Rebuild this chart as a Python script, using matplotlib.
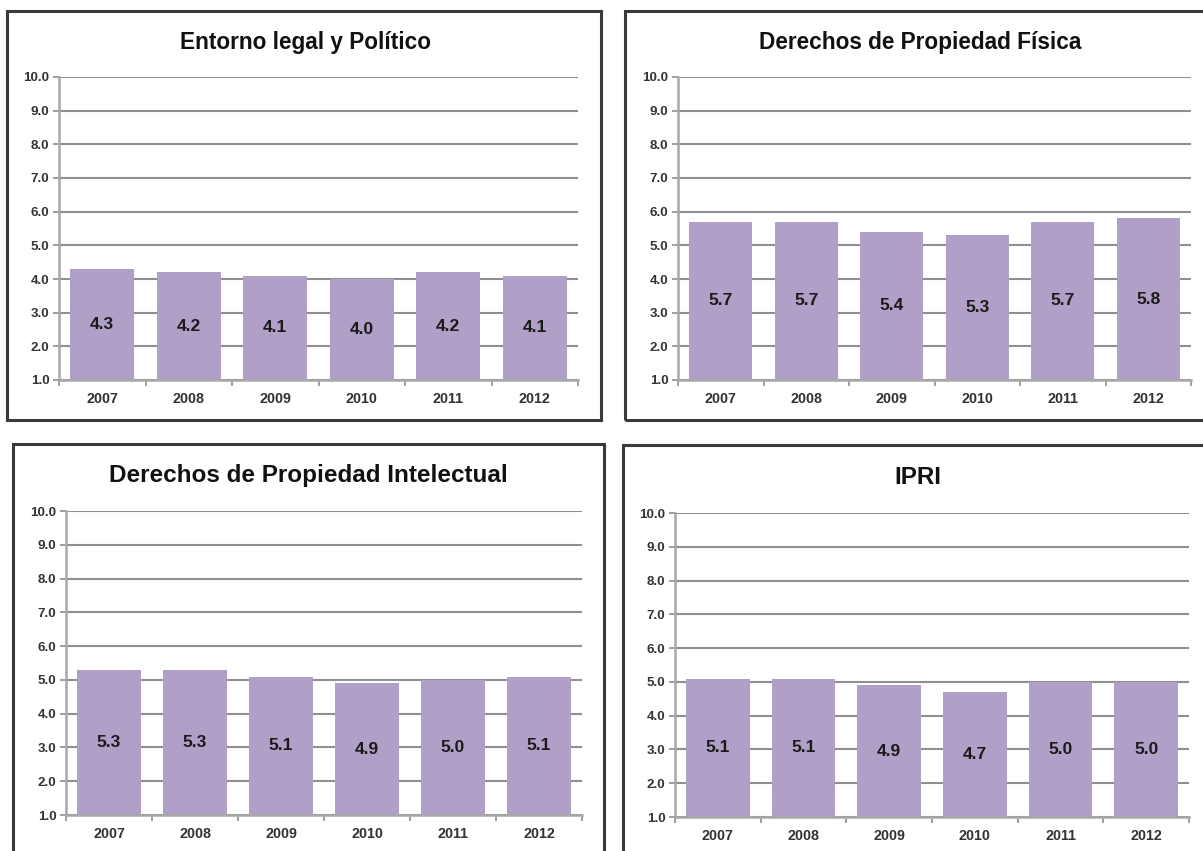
import matplotlib
matplotlib.use("Agg")
import matplotlib.pyplot as plt
from matplotlib.patches import Rectangle
from matplotlib.ticker import FormatStrFormatter, FixedLocator

plt.rcParams['font.family'] = ['Liberation Sans', 'DejaVu Sans']

years = ["2007", "2008", "2009", "2010", "2011", "2012"]
titles = ["Entorno legal y Político", "Derechos de Propiedad Física",
          "Derechos de Propiedad Intelectual", "IPRI"]
entorno = [4.3, 4.2, 4.1, 4.0, 4.2, 4.1]
fisica = [5.7, 5.7, 5.4, 5.3, 5.7, 5.8]
intelectual = [5.3, 5.3, 5.1, 4.9, 5.0, 5.1]
ipri = [5.1, 5.1, 4.9, 4.7, 5.0, 5.0]
series = [entorno, fisica, intelectual, ipri]

W, H = 1203, 851
fig = plt.figure(figsize=(W / 100, H / 100), dpi=100)
fig.patch.set_facecolor("white")

# pixel layouts: axes (left, right, top, bottom), border (x0, x1, y0, y1), title (cx, cy)
axes_px = [(59, 578, 77, 380), (678, 1191, 77, 380), (66, 582, 511, 815), (675, 1189, 513, 817)]
border_px = [(7, 601, 11, 420), (625, 1212, 11, 420), (13, 604, 444, 862), (623, 1212, 445, 862)]
title_px = [(306, 42), (920, 42), (308, 476), (918, 478)]
title_size = [16.3, 16.3, 17.5, 17.5]

bar_color = "#b09fc7"
grid_color = "#8f8f8f"

for k in range(4):
    x0, x1, y0, y1 = border_px[k]
    fig.add_artist(Rectangle((x0 / W, 1 - y1 / H), (x1 - x0) / W, (y1 - y0) / H,
                             transform=fig.transFigure, fill=False,
                             edgecolor="#3a3a3a", linewidth=2.2, zorder=0))
    l, r, t, b = axes_px[k]
    ax = fig.add_axes([l / W, 1 - b / H, (r - l) / W, (b - t) / H])
    vals = series[k]
    xs = list(range(len(years)))
    ax.set_axisbelow(True)
    ax.bar(xs, vals, width=0.74, color=bar_color, zorder=2)
    ax.set_ylim(1, 10)
    ax.set_xlim(-0.5, len(years) - 0.5)
    ax.set_yticks([1, 2, 3, 4, 5, 6, 7, 8, 9, 10])
    ax.yaxis.set_major_formatter(FormatStrFormatter('%.1f'))
    ax.grid(axis='y', color=grid_color, linewidth=1.5, zorder=1)
    ax.set_xticks(xs)
    ax.set_xticklabels(years)
    ax.xaxis.set_minor_locator(FixedLocator([i - 0.5 for i in range(len(years) + 1)]))
    ax.tick_params(axis='x', which='major', length=0, labelsize=10.3, pad=9, labelcolor="#333333")
    ax.tick_params(axis='x', which='minor', length=4, color=grid_color, width=1.2)
    ax.tick_params(axis='y', length=4, color=grid_color, width=1.2, labelsize=9.6,
                   labelcolor="#333333", pad=3)
    for lab in ax.get_xticklabels() + ax.get_yticklabels():
        lab.set_fontweight('bold')
    for s in ['top', 'right']:
        ax.spines[s].set_visible(False)
    for s in ['left', 'bottom']:
        ax.spines[s].set_color("#a8a8a8")
        ax.spines[s].set_linewidth(1.8)
    for i, v in enumerate(vals):
        ax.text(i, (1 + v) / 2, f"{v:.1f}", ha='center', va='center',
                fontsize=12.5, fontweight='bold', color="#1a1a1a", zorder=3)
    cx, cy = title_px[k]
    fig.text(cx / W, 1 - cy / H, titles[k], ha='center', va='center',
             fontsize=title_size[k], fontweight='bold', color="#111111")

fig.savefig("out.png", dpi=100, facecolor="white")
